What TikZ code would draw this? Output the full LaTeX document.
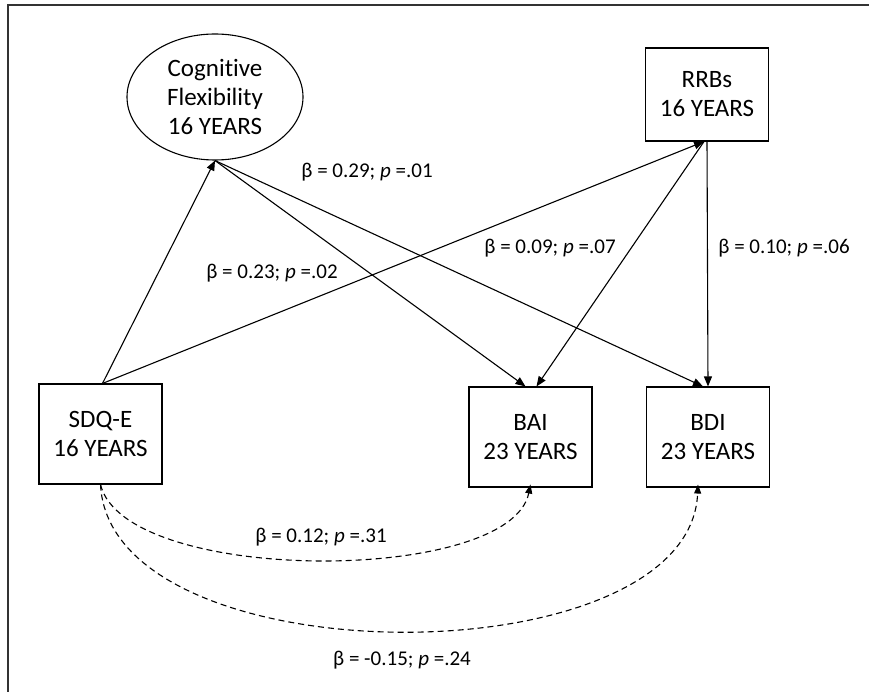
\documentclass[tikz,border=0pt]{standalone}
\usepackage{fontspec}
\setmainfont{Carlito}[Ligatures={NoCommon}]
\usetikzlibrary{shapes.geometric,arrows.meta}
\tikzset{
    varbox/.style={draw, line width=1.1pt, minimum width=123pt, minimum height=100pt, align=center, font=\fontsize{25}{29}\selectfont},
    latent/.style={draw, ellipse, line width=1.1pt, minimum width=176pt, minimum height=126pt, inner sep=0pt, align=center, font=\fontsize{25}{29}\selectfont},
    path/.style={line width=1.1pt, -{Triangle[length=10pt,width=8pt]}},
    covpath/.style={line width=1.1pt, dashed, dash pattern=on 6pt off 4pt, -{Triangle[length=9pt,width=7pt]}},
    coef/.style={font=\fontsize{21}{25}\selectfont}
}
\begin{document}
\begin{tikzpicture}[x=1pt, y=-1pt]
                        \useasboundingbox (0,0) rectangle (869,692);
                        \draw[line width=1.6pt, black!80] (869,5) -- (8,5) -- (8,692);
                        \node[latent] (cogflex) at (215,97) {Cognitive\\Flexibility\\16 YEARS};
                        \node[varbox, minimum height=93pt] (rrbs) at (707,94.5) {RRBs\\16 YEARS};
                        \node[varbox] (sdqe) at (100.5,434) {SDQ-E\\16 YEARS};
                        \node[varbox] (bai) at (530.5,437) {BAI\\23 YEARS};
                        \node[varbox] (bdi) at (708,437) {BDI\\23 YEARS};
                        \draw[path] ([xshift=2pt]sdqe.north) -- (cogflex.south);
                        \draw[path] ([xshift=2pt]sdqe.north) -- ([xshift=-3pt]rrbs.south);
                        \draw[path] (cogflex.south) -- ([xshift=-5pt]bai.north);
                        \draw[path] (cogflex.south) -- ([xshift=-5pt]bdi.north);
                        \draw[path] ([xshift=-3pt]rrbs.south) -- ([xshift=6pt]bai.north);
                        \draw[path] (rrbs.south) -- (bdi.north);
                        \draw[covpath] (sdqe.south) .. controls (125,585) and (510,585) .. ([yshift=3pt]bai.south);
                        \draw[covpath] (sdqe.south) .. controls (110,680) and (690,680) .. ([xshift=-10pt,yshift=3pt]bdi.south);
                        \node[coef] (b29) at (367,172) {β = 0.29; \textit{p} =.01};
                        \node[coef] (b23) at (272,273) {β = 0.23; \textit{p} =.02};
                        \node[coef] (b09) at (550,248) {β = 0.09; \textit{p} =.07};
                        \node[coef] (b10) at (784,248) {β = 0.10; \textit{p} =.06};
                        \node[coef] (b12) at (321,537) {β = 0.12; \textit{p} =.31};
                        \node[coef] (b15) at (402,660) {β = -0.15; \textit{p} =.24};
                    \end{tikzpicture}
\end{document}
